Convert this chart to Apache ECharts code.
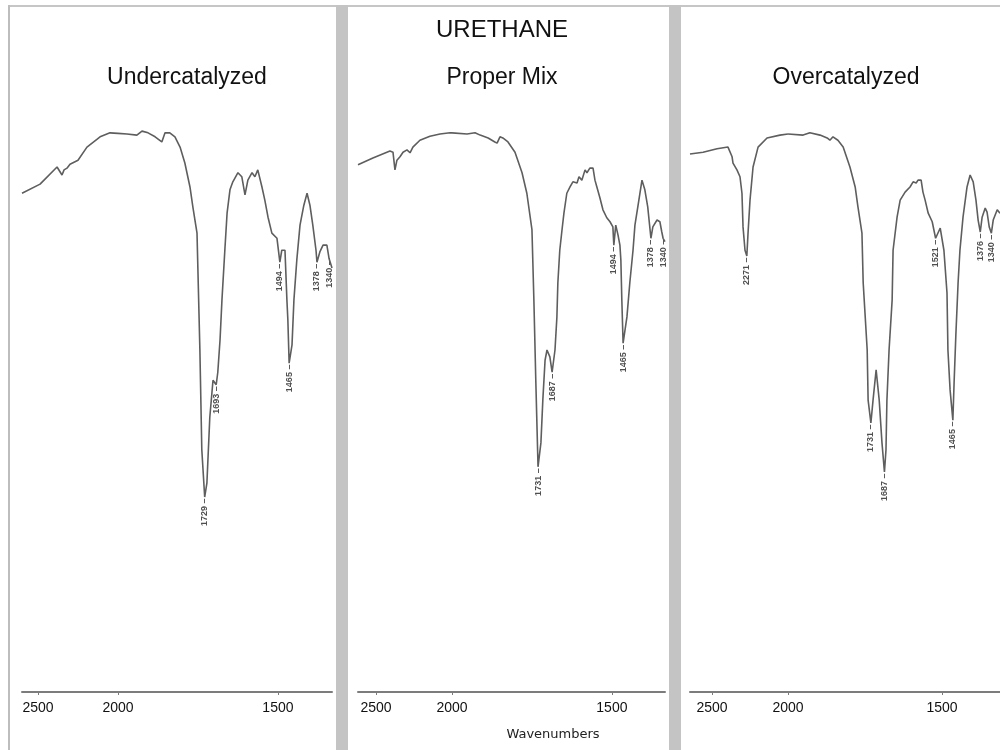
<!DOCTYPE html>
<html>
<head>
<meta charset="utf-8">
<script src="https://cdn.jsdelivr.net/npm/echarts@6/dist/echarts.min.js"></script>
<style>
html,body{margin:0;padding:0;background:#fff;}
#chart{width:1000px;height:750px;}
</style>
</head>
<body>
<div id="chart"></div>
<script>
// ---- Data (wavenumber cm-1, transmittance %) ----
const TITLES = ['Undercatalyzed', 'Proper Mix', 'Overcatalyzed'];
const MAIN_TITLE = 'URETHANE';
const X_NAME = 'Wavenumbers';
const TICKS_HIGH = [2500, 2000];
const TICKS_LOW = [1500];

const W1 = [2600,2487,2381,2350,2337,2319,2300,2250,2194,2112,2050,2000,1972,1941,1925,1906,1884,1863,1853,1838,1822,1806,1791,1775,1766,1753,1744,1738,1729,1722,1713,1703,1693,1688,1681,1675,1666,1659,1650,1641,1625,1613,1603,1594,1581,1572,1563,1550,1541,1531,1519,1503,1494,1488,1478,1472,1469,1465,1456,1450,1441,1431,1419,1409,1400,1391,1381,1378,1369,1359,1347,1340,1331];
const T1 = [87.5,89.1,92.1,90.7,91.6,91.9,92.6,93.3,95.6,97.4,98.1,98.0,97.9,97.7,98.4,98.1,97.4,96.5,98.1,98.1,97.4,95.6,92.8,88.6,85.1,80.5,60.0,42.5,34.2,36.7,48.2,54.7,53.9,56.1,61.8,68.8,77.5,84.0,88.1,89.5,91.1,90.4,87.2,89.8,91.1,90.4,91.6,88.6,86.3,83.3,80.5,79.6,75.4,77.5,77.5,68.8,65.3,57.7,60.9,68.8,75.8,81.9,85.4,87.5,85.4,81.9,77.5,75.4,77.2,78.4,78.4,76.0,74.4];
const P1 = [1729,1693,1494,1465,1378,1340];

const W2 = [2618,2520,2408,2388,2375,2362,2342,2322,2296,2276,2257,2211,2145,2079,2013,2000,1953,1928,1912,1887,1866,1859,1850,1841,1825,1803,1781,1766,1750,1744,1738,1734,1731,1722,1716,1709,1703,1694,1687,1678,1672,1669,1663,1656,1650,1641,1631,1622,1609,1603,1594,1584,1578,1569,1559,1553,1547,1538,1528,1516,1506,1497,1494,1488,1481,1475,1472,1469,1465,1453,1444,1434,1428,1419,1406,1397,1388,1378,1372,1359,1350,1344,1340,1334];
const T2 = [92.5,93.7,94.9,94.7,91.6,93.3,93.9,94.7,95.1,94.6,95.6,96.8,97.5,97.9,98.1,98.1,97.9,98.1,97.7,97.2,96.5,96.3,97.4,97.2,96.5,94.7,91.1,87.5,81.1,68.8,54.7,46.0,39.5,43.7,51.2,58.2,60.0,58.8,56.1,60.0,65.8,71.8,77.5,81.1,84.0,87.5,88.6,89.5,89.3,90.4,89.8,91.6,91.1,91.9,91.9,89.8,88.6,86.8,84.6,83.2,82.5,81.6,78.4,81.9,80.2,78.4,75.8,68.8,61.2,65.8,71.8,77.5,81.9,85.1,89.8,88.1,85.1,79.6,81.6,82.8,82.5,80.7,79.6,79.0];
const P2 = [1731,1687,1494,1465,1378,1340];

const W3 = [2645,2559,2467,2395,2368,2362,2336,2316,2303,2296,2283,2271,2263,2250,2230,2197,2138,2053,2000,1951,1929,1896,1873,1864,1854,1838,1821,1799,1782,1773,1760,1756,1743,1740,1731,1724,1714,1711,1704,1695,1687,1682,1679,1672,1662,1659,1646,1636,1620,1604,1594,1584,1578,1568,1562,1555,1545,1532,1521,1506,1494,1484,1481,1474,1465,1461,1455,1448,1442,1432,1419,1409,1399,1390,1383,1376,1370,1360,1354,1347,1340,1334,1321,1312];
const T3 = [94.4,94.7,95.3,95.6,93.9,92.8,91.6,90.4,87.5,81.6,77.5,76.5,80.5,86.3,92.1,95.6,97.2,97.7,97.9,97.7,98.1,97.7,97.2,96.8,97.4,96.8,95.6,92.1,88.6,85.1,80.5,71.8,60.0,51.2,47.2,51.2,56.5,56.5,51.2,43.7,38.6,42.5,51.2,60.0,68.8,77.5,83.3,86.3,87.7,88.6,89.5,89.3,89.8,89.8,87.7,86.3,84.0,82.5,79.6,81.4,77.5,70.0,60.0,53.0,47.7,54.2,63.0,71.8,77.5,83.3,88.6,90.7,89.5,86.3,82.8,80.7,83.3,84.9,84.2,81.6,80.5,82.8,84.6,84.0];
const P3 = [2271,1731,1687,1521,1465,1376,1340];

// ---- Layout (pixels) : each panel uses a compressed scale above 2000 cm-1 ----
const LAYOUT = [
  {left: 22,  split: 118, right: 332,  hi: 2600, lo: 1331, cx: 187},
  {left: 358, split: 452, right: 665,  hi: 2618, lo: 1334, cx: 502},
  {left: 690, split: 788, right: 1000, hi: 2645, lo: 1312, cx: 846}
];
const PLOT_TOP = 122, PLOT_BOTTOM = 692;

const DATA = [[W1, T1, P1], [W2, T2, P2], [W3, T3, P3]];
const FONT = '"Liberation Sans", Arial, sans-serif';
const LINE_COLOR = '#5e5e5e';
const AXIS_COLOR = '#7c7c7c';

const grids = [], xAxes = [], yAxes = [], series = [];
LAYOUT.forEach((L, i) => {
  const [W, T, P] = DATA[i];
  const parts = [
    {l: L.left, w: L.split - L.left, min: 2000, max: L.hi, ticks: TICKS_HIGH, keep: x => x >= 2000},
    {l: L.split, w: L.right - L.split, min: L.lo, max: 2000, ticks: TICKS_LOW, keep: x => x <= 2000}
  ];
  parts.forEach(pt => {
    const gi = grids.length;
    grids.push({left: pt.l, width: pt.w, top: PLOT_TOP, height: PLOT_BOTTOM - PLOT_TOP, containLabel: false});
    xAxes.push({
      gridIndex: gi, type: 'value', inverse: true, min: pt.min, max: pt.max,
      axisLine: {show: true, onZero: false, lineStyle: {color: AXIS_COLOR, width: 2}},
      axisTick: {show: true, customValues: pt.ticks, length: 3, lineStyle: {color: AXIS_COLOR, width: 1}},
      axisLabel: {show: true, customValues: pt.ticks, color: '#111', fontSize: 14, fontFamily: FONT, margin: 9,
                  formatter: v => String(v)},
      splitLine: {show: false}
    });
    yAxes.push({gridIndex: gi, type: 'value', min: 0, max: 100, show: false});
    const line = [];
    W.forEach((x, k) => { if (pt.keep(x)) line.push([x, T[k]]); });
    series.push({
      type: 'line', xAxisIndex: gi, yAxisIndex: gi, data: line,
      showSymbol: false, symbol: 'none', animation: false, silent: true,
      lineStyle: {color: LINE_COLOR, width: 1.6}
    });
    const peaks = [];
    P.forEach(p => {
      if (!pt.keep(p) || (p === 2000 && pt.min === 2000)) return;
      const k = W.indexOf(p);
      if (k >= 0) peaks.push([p, T[k]]);
    });
    series.push({
      type: 'scatter', xAxisIndex: gi, yAxisIndex: gi, data: peaks,
      symbol: 'circle', symbolSize: 1, itemStyle: {color: 'rgba(0,0,0,0)'},
      animation: false, silent: true,
      label: {
        show: true, position: 'bottom', distance: 1, rotate: 90,
        align: 'right', verticalAlign: 'middle',
        formatter: prm => prm.value[0] + ' \u2013',
        fontSize: 9, fontFamily: FONT, color: '#222', fontWeight: 'bold'
      }
    });
  });
});

const graphics = [
  {type: 'rect', shape: {x: 8, y: 5, width: 992, height: 2}, style: {fill: '#c6c6c6'}, silent: true},
  {type: 'rect', shape: {x: 8, y: 5, width: 2, height: 745}, style: {fill: '#bdbdbd'}, silent: true},
  {type: 'rect', shape: {x: 336, y: 5, width: 12, height: 745}, style: {fill: '#c4c4c4'}, silent: true},
  {type: 'rect', shape: {x: 669, y: 5, width: 12, height: 745}, style: {fill: '#c4c4c4'}, silent: true},
  {type: 'text', x: 502, y: 30, silent: true,
   style: {text: MAIN_TITLE, fontSize: 24, fontFamily: FONT, fill: '#111', align: 'center', verticalAlign: 'middle'}},
  {type: 'text', x: 553, y: 735, silent: true,
   style: {text: X_NAME, fontSize: 13, fontFamily: '"DejaVu Sans", sans-serif', fill: '#222', align: 'center', verticalAlign: 'middle'}}
];
LAYOUT.forEach((L, i) => {
  graphics.push({type: 'text', x: L.cx, y: 78, silent: true,
    style: {text: TITLES[i], fontSize: 23, fontFamily: FONT, fill: '#111', align: 'center', verticalAlign: 'middle'}});
});

const chart = echarts.init(document.getElementById('chart'), null, {renderer: 'canvas'});
chart.setOption({
  backgroundColor: '#ffffff',
  animation: false,
  grid: grids,
  xAxis: xAxes,
  yAxis: yAxes,
  series: series,
  graphic: graphics
});
</script>
</body>
</html>
